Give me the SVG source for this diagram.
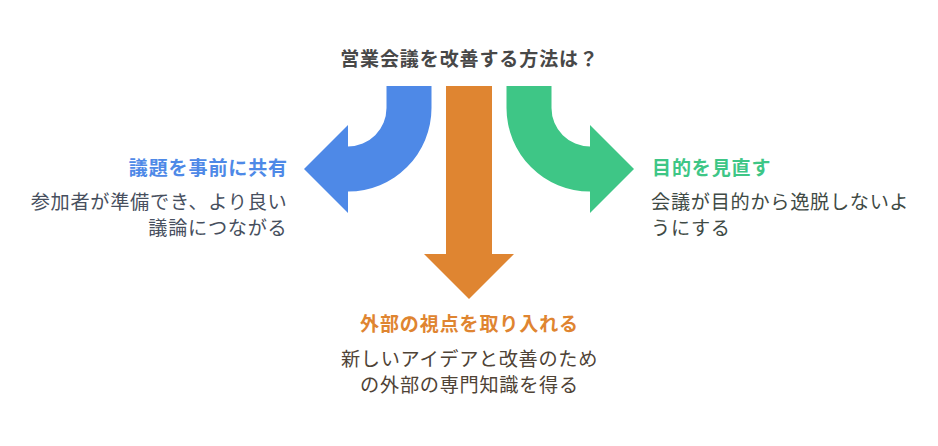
<svg xmlns="http://www.w3.org/2000/svg" width="938" height="446" viewBox="0 0 938 446">
<style>
text{font-family:"Noto Sans CJK JP","Noto Sans",sans-serif}
.t{font-size:19px;font-weight:bold;letter-spacing:0.9px}
.d{font-size:19.2px;letter-spacing:0.7px}
</style>
<rect width="938" height="446" fill="#ffffff"/>
<g id="connectors">
<path id="arrow-blue" fill="#4E89E7" d="M386.5,86 H431.5 V108 A83.5,83.5 0 0 1 348,191.5 V213 L304,169 L348,125 V146.5 A38.5,38.5 0 0 0 386.5,108 Z"/>
<path id="arrow-orange" fill="#DF8531" d="M446,86 H492 V254 H514 L469,299 L424,254 H446 Z"/>
<path id="arrow-green" fill="#3EC686" d="M551.5,86 H506.5 V108 A83.5,83.5 0 0 0 590,191.5 V213 L634,169 L590,125 V146.5 A38.5,38.5 0 0 1 551.5,108 Z"/>
</g>
<g id="title">
<text class="t" x="469.5" y="65.5" text-anchor="middle" fill="#484848">営業会議を改善する方法は？</text>
</g>
<g id="node-blue">
<text class="t" x="288" y="175" text-anchor="end" fill="#4E89E7">議題を事前に共有</text>
<text class="d" x="287.5" y="208.5" text-anchor="end" fill="#474F5E">参加者が準備でき、より良い</text>
<text class="d" x="287.5" y="235" text-anchor="end" fill="#474F5E">議論につながる</text>
</g>
<g id="node-green">
<text class="t" x="652" y="175" fill="#3EC686">目的を見直す</text>
<text class="d" x="651" y="208.5" fill="#404A45">会議が目的から逸脱しないよ</text>
<text class="d" x="651" y="235" fill="#404A45">うにする</text>
</g>
<g id="node-orange">
<text class="t" x="469.5" y="331" text-anchor="middle" fill="#DF8531">外部の視点を取り入れる</text>
<text class="d" x="469.5" y="366" text-anchor="middle" fill="#4F4336">新しいアイデアと改善のため</text>
<text class="d" x="469.5" y="392" text-anchor="middle" fill="#4F4336">の外部の専門知識を得る</text>
</g>
</svg>
